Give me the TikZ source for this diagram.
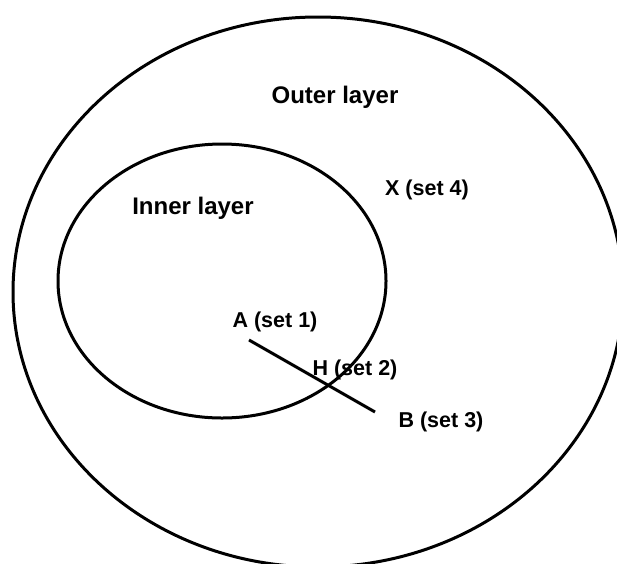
\documentclass[tikz,border=0pt]{standalone}
\usepackage{fontspec}
\setmainfont{Liberation Sans}
\usetikzlibrary{shapes.geometric}
\begin{document}
\begin{tikzpicture}[x=1pt,y=-1pt,
  layer/.style={draw=black, line width=3pt, ellipse, inner sep=0pt},
  big/.style={font=\bfseries\fontsize{24}{27}\selectfont, inner sep=0pt},
  lab/.style={font=\bfseries\fontsize{21.5}{24}\selectfont, inner sep=0pt}]
\useasboundingbox (0,0) rectangle (617,563);
\clip (0,0) rectangle (617,563);
\node[layer, minimum width=610pt, minimum height=550pt] (outer) at (318,292) {};
\node[layer, minimum width=328pt, minimum height=274pt] (inner) at (222,281) {};
\node[big] (outerlab) at (335,97) {Outer layer};
\node[big] (innerlab) at (193,208) {Inner layer};
\node[lab] (x) at (427,190) {X (set 4)};
\node[lab] (alab) at (275,322) {A (set 1)};
\node[lab] (hlab) at (355,370) {H (set 2)};
\node[lab] (blab) at (441,422) {B (set 3)};
\coordinate (a) at (249,340);
\coordinate (b) at (375,412);
\draw[line width=3pt] (a) -- (b);
\end{tikzpicture}
\end{document}
